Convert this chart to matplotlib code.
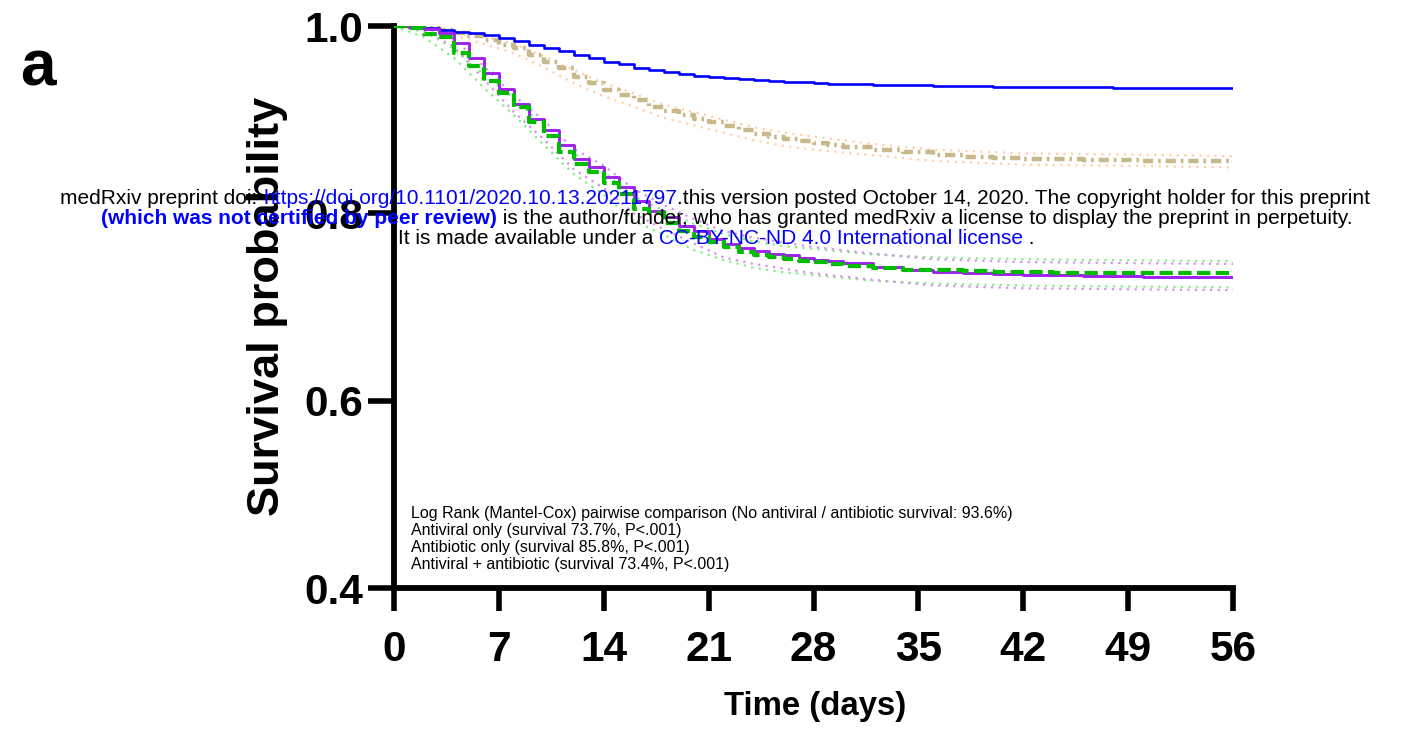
import matplotlib

matplotlib.use("Agg")
import matplotlib.pyplot as plt

plt.rcParams["font.family"] = ["Liberation Sans", "DejaVu Sans"]

# Kaplan-Meier estimates (days -> survival probability)
DAYS = list(range(0, 31)) + [32, 34, 36, 38, 40, 42, 44, 46, 48, 50, 52, 54, 56]

NONE = [1.0, 0.9995, 0.998, 0.996, 0.994, 0.9925, 0.990, 0.987, 0.9835, 0.980,
        0.976, 0.973, 0.969, 0.966, 0.962, 0.959, 0.955, 0.953, 0.951, 0.949,
        0.947, 0.946, 0.944, 0.943, 0.942, 0.941, 0.940, 0.940, 0.939, 0.938,
        0.938, 0.937, 0.9365, 0.936, 0.9355, 0.935, 0.935, 0.9345, 0.9345, 0.934,
        0.934, 0.934, 0.934, 0.934]
ANTIVIRAL = [1.0, 0.998, 0.991, 0.988, 0.971, 0.957, 0.941, 0.928, 0.914, 0.898,
             0.883, 0.866, 0.853, 0.844, 0.832, 0.821, 0.805, 0.800, 0.790, 0.781,
             0.775, 0.769, 0.764, 0.759, 0.756, 0.753, 0.751, 0.749, 0.748, 0.746,
             0.744, 0.742, 0.740, 0.739, 0.738, 0.7375, 0.737, 0.7365, 0.7365, 0.736,
             0.736, 0.736, 0.736, 0.736]
ANTIBIOTIC = [1.0, 0.999, 0.998, 0.996, 0.993, 0.989, 0.985, 0.980, 0.976, 0.969,
              0.962, 0.955, 0.946, 0.939, 0.932, 0.926, 0.921, 0.914, 0.909, 0.905,
              0.901, 0.897, 0.893, 0.889, 0.885, 0.882, 0.879, 0.877, 0.875, 0.873,
              0.871, 0.868, 0.865, 0.862, 0.860, 0.859, 0.858, 0.8575, 0.857, 0.857,
              0.856, 0.856, 0.856, 0.855]
BOTH = [1.0, 0.999, 0.997, 0.9925, 0.982, 0.966, 0.950, 0.933, 0.917, 0.901,
        0.889, 0.873, 0.858, 0.849, 0.839, 0.828, 0.813, 0.803, 0.796, 0.787,
        0.781, 0.773, 0.767, 0.763, 0.760, 0.757, 0.755, 0.752, 0.750, 0.749,
        0.747, 0.743, 0.740, 0.737, 0.736, 0.735, 0.734, 0.734, 0.733, 0.733,
        0.732, 0.732, 0.732, 0.732]

# 95% confidence bands (dotted)
CI_DAYS = [0, 2, 4, 6, 8, 10, 12, 14, 16, 18, 20, 22, 24, 26, 28, 32, 36, 42, 48, 56]
ANTIBIOTIC_HI = [1.0, 0.999, 0.996, 0.989, 0.981, 0.968, 0.953, 0.939, 0.928, 0.916,
                 0.908, 0.900, 0.892, 0.886, 0.882, 0.874, 0.868, 0.864, 0.863, 0.861]
ANTIBIOTIC_LO = [1.0, 0.997, 0.990, 0.981, 0.971, 0.956, 0.939, 0.925, 0.914, 0.902,
                 0.894, 0.886, 0.878, 0.872, 0.868, 0.862, 0.856, 0.852, 0.851, 0.849]
ANTIVIRAL_HI = [1.0, 0.994, 0.976, 0.948, 0.923, 0.893, 0.864, 0.844, 0.818, 0.803,
                0.789, 0.778, 0.770, 0.765, 0.762, 0.756, 0.753, 0.751, 0.750, 0.749]
ANTIVIRAL_LO = [1.0, 0.988, 0.966, 0.934, 0.905, 0.873, 0.842, 0.820, 0.792, 0.777,
                0.761, 0.750, 0.742, 0.737, 0.734, 0.728, 0.725, 0.723, 0.722, 0.721]
BOTH_HI = [1.0, 0.999, 0.986, 0.957, 0.926, 0.899, 0.869, 0.851, 0.826, 0.809,
           0.794, 0.781, 0.774, 0.769, 0.764, 0.757, 0.751, 0.748, 0.747, 0.746]
BOTH_LO = [1.0, 0.995, 0.978, 0.943, 0.908, 0.879, 0.847, 0.827, 0.800, 0.783,
           0.768, 0.753, 0.746, 0.741, 0.736, 0.729, 0.723, 0.720, 0.719, 0.718]

X_TICKS = [0, 7, 14, 21, 28, 35, 42, 49, 56]
Y_TICKS = [0.4, 0.6, 0.8, 1.0]

STATS_LINES = [
    "Log Rank (Mantel-Cox) pairwise comparison (No antiviral / antibiotic survival: 93.6%)",
    "Antiviral only (survival 73.7%, P<.001)",
    "Antibiotic only (survival 85.8%, P<.001)",
    "Antiviral + antibiotic (survival 73.4%, P<.001)",
]

LINK = "#0000ff"
HEADER = [
    [("medRxiv preprint doi: ", "black", "normal"),
     ("https://doi.org/10.1101/2020.10.13.20211797", LINK, "normal"),
     (".this version posted October 14, 2020. The copyright holder for this preprint", "black", "normal")],
    [("(which was not certified by peer review)", LINK, "bold"),
     (" is the author/funder, who has granted medRxiv a license to display the preprint in perpetuity.", "black", "normal")],
    [("It is made available under a ", "black", "normal"),
     ("CC-BY-NC-ND 4.0 International license", LINK, "normal"),
     (" .", "black", "normal")],
]
HEADER_CENTERS = [(715, 198), (727, 218), (716, 239)]

W, H = 1403, 730


def px(x, y):
    # pixel position (from top-left) -> figure fraction
    return x / W, 1 - y / H


def header_line(fig, renderer, segments, cx, cy, size):
    texts = [fig.text(0, 0, s, color=c, weight=w, fontsize=size, va="center", ha="left", zorder=10)
             for s, c, w in segments]
    widths = [t.get_window_extent(renderer).width for t in texts]
    x = cx - sum(widths) / 2
    for t, w in zip(texts, widths):
        t.set_position(px(x, cy))
        x += w


fig = plt.figure(figsize=(W / 100, H / 100), dpi=100)
ax = fig.add_axes([394 / W, 1 - 588 / H, (1233 - 394) / W, (588 - 26) / H])

ci_style = dict(lw=1.6, ls=(0, (1, 2.4)), zorder=1)
ax.plot(CI_DAYS, ANTIBIOTIC_HI, color="#ffcfa8", **ci_style)
ax.plot(CI_DAYS, ANTIBIOTIC_LO, color="#ffcfa8", **ci_style)
ax.plot(CI_DAYS, ANTIVIRAL_HI, color="#80f080", **ci_style)
ax.plot(CI_DAYS, ANTIVIRAL_LO, color="#80f080", **ci_style)
ax.plot(CI_DAYS, BOTH_HI, color="#d890f0", **ci_style)
ax.plot(CI_DAYS, BOTH_LO, color="#d890f0", **ci_style)

ax.step(DAYS, ANTIBIOTIC, where="post", color="#c8b88a", lw=3.2, ls=(0, (2.3, 1.1, 0.6, 1.1)), zorder=2)
ax.step(DAYS, NONE, where="post", color="#0000ff", lw=1.9, zorder=3)
ax.step(DAYS, BOTH, where="post", color="#a020f0", lw=2.1, zorder=4)
ax.step(DAYS, ANTIVIRAL, where="post", color="#00bb00", lw=3.0, ls=(0, (3.2, 1.3)), zorder=5)

ax.set_xlim(0, 56)
ax.set_ylim(0.4, 1.0)
ax.set_xticks(X_TICKS)
ax.set_yticks(Y_TICKS)
ax.set_yticklabels([f"{v:.1f}" for v in Y_TICKS])
for side in ("top", "right"):
    ax.spines[side].set_visible(False)
for side in ("left", "bottom"):
    ax.spines[side].set_linewidth(4.2)
    ax.spines[side].set_capstyle("projecting")
ax.tick_params(axis="both", direction="out", width=4.0, color="black")
ax.tick_params(axis="x", labelsize=30.5, length=16.5, pad=13.4)
ax.tick_params(axis="y", labelsize=30.5, length=18.5, pad=3.6)
for lab in ax.get_xticklabels() + ax.get_yticklabels():
    lab.set_fontweight("bold")

ax.set_xlabel("Time (days)", fontsize=23.7, fontweight="bold")
ax.xaxis.set_label_coords((815 - 394) / (1233 - 394), (588 - 707) / (588 - 26))
ax.xaxis.label.set_va("center")
ax.set_ylabel("Survival probability", fontsize=32.5, fontweight="bold")
ax.yaxis.set_label_coords((268 - 394) / (1233 - 394), (588 - 306) / (588 - 26))
ax.yaxis.label.set_va("center")

for i, line in enumerate(STATS_LINES):
    fig.text(*px(411, 518 + 17 * i), line, fontsize=11.5, va="baseline", ha="left")

fig.text(*px(20, 85), "a", fontsize=46, fontweight="bold", va="baseline", ha="left")

renderer = fig.canvas.get_renderer()
for segs, (cx, cy) in zip(HEADER, HEADER_CENTERS):
    header_line(fig, renderer, segs, cx, cy, 15)

fig.savefig("out.png", dpi=100)
